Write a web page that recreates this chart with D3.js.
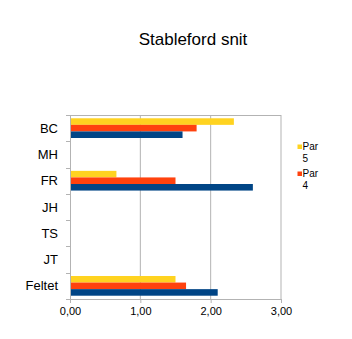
<!DOCTYPE html>
<html><head><meta charset="utf-8">
<script src="https://cdn.jsdelivr.net/npm/d3@7"></script>
<style>body{margin:0;background:#fff}svg{display:block}text{font-family:"Liberation Sans",Arial,sans-serif;fill:#000}</style>
</head><body>
<script>
const categories = ["BC","MH","FR","JH","TS","JT","Feltet"];
const seriesNames = ["Par 5","Par 4","Par 3"];
const par5 = [2.33, null, 0.66, null, null, null, 1.50];
const par4 = [1.80, null, 1.50, null, null, null, 1.65];
const par3 = [1.60, null, 2.60, null, null, null, 2.10];
const colors = ["#ffd320","#ff420e","#004586"];
const xTicks = [0,1,2,3];
const title = "Stableford snit";
const legendEntries = [["Par","5"],["Par","4"]];

const W=352,H=339;
const svg=d3.select("body").append("svg").attr("width",W).attr("height",H);
const L=70,R=281,T=115,B=299;
const x=d3.scaleLinear().domain([0,3]).range([L,R]);
const y=d3.scaleBand().domain(categories).range([T,B]).paddingInner(0.25).paddingOuter(0.125);
const ys=d3.scaleBand().domain(seriesNames).range([0,y.bandwidth()]);
const grid="#b3b3b3";

svg.append("text").attr("x",193).attr("y",45).attr("text-anchor","middle").style("font-size","17px").text(title);

// gridlines
svg.append("g").selectAll("line").data(xTicks.slice(1)).join("line")
 .attr("x1",d=>x(d)).attr("x2",d=>x(d)).attr("y1",T).attr("y2",B).attr("stroke",grid).attr("stroke-width",1);
svg.append("line").attr("x1",L).attr("x2",R).attr("y1",T+0.5).attr("y2",T+0.5).attr("stroke",grid);

// bars
const data=[par5,par4,par3];
data.forEach((arr,si)=>{
  svg.append("g").selectAll("rect").data(categories.map((c,i)=>({c,v:arr[i]})).filter(d=>d.v!=null)).join("rect")
   .attr("x",x(0)).attr("y",d=>y(d.c)+ys(seriesNames[si]))
   .attr("width",d=>x(d.v)-x(0)).attr("height",ys.bandwidth()).attr("fill",colors[si]);
});

// x axis
const xa=svg.append("g").attr("transform",`translate(0,${B})`)
 .call(d3.axisBottom(x).tickValues(xTicks).tickSize(4).tickFormat(d=>d3.format(".2f")(d).replace(".",",")));
xa.select(".domain").attr("stroke",grid);
xa.selectAll(".tick line").attr("stroke",grid);
xa.selectAll("text").style("font-size","11px").attr("dy","0").attr("y",16);

// y axis
svg.append("line").attr("x1",L+0.5).attr("x2",L+0.5).attr("y1",T).attr("y2",B).attr("stroke",grid);
svg.append("g").selectAll("line").data(d3.range(categories.length+1)).join("line")
 .attr("x1",L-4).attr("x2",L).attr("y1",d=>Math.round(T+d*(B-T)/categories.length)+0.5).attr("y2",d=>Math.round(T+d*(B-T)/categories.length)+0.5).attr("stroke",grid);
svg.append("g").selectAll("text").data(categories).join("text")
 .attr("x",58).attr("y",d=>y(d)+y.bandwidth()/2+4.5).attr("text-anchor","end").style("font-size","13px").text(d=>d);

// legend
legendEntries.forEach((e,i)=>{
  const oy=i*27;
  svg.append("rect").attr("x",297.5).attr("y",144.5+oy).attr("width",4.5).attr("height",4.5).attr("fill",colors[i]);
  svg.append("text").attr("x",302.5).attr("y",150+oy).style("font-size","10px").text(e[0]);
  svg.append("text").attr("x",302.5).attr("y",162+oy).style("font-size","10px").text(e[1]);
});
</script>
</body></html>
